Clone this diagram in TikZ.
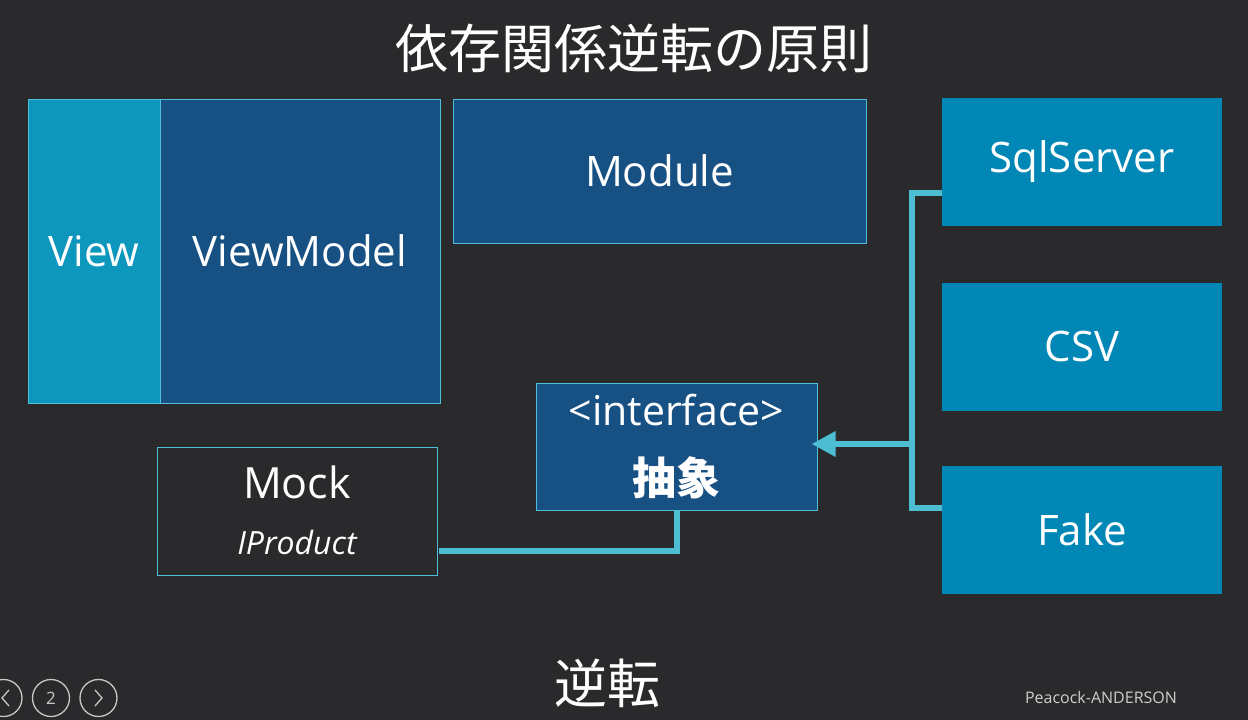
\documentclass[tikz,border=0pt]{standalone}
\usepackage{fontspec}
\setmainfont{Open Sans}
\newfontfamily\jp{Noto Sans CJK JP}
\usetikzlibrary{arrows.meta}
\definecolor{bg}{HTML}{2A2A2C}
\definecolor{lightblue}{HTML}{0E97BC}
\definecolor{darkblue}{HTML}{175184}
\definecolor{midblue}{HTML}{0087B5}
\definecolor{edge}{HTML}{4FC0D8}
\definecolor{wire}{HTML}{4DBDD1}
\definecolor{navgray}{HTML}{C8C8C8}
\begin{document}
\begin{tikzpicture}[x=1pt,y=-1pt,
  box/.style={draw=edge,line width=1pt,inner sep=0pt,text=white,align=center,font=\fontsize{42}{48}\selectfont},
  rbox/.style={fill=midblue,inner sep=0pt,text=white,align=center,minimum width=280pt,minimum height=128pt,font=\fontsize{42}{48}\selectfont},
  conn/.style={draw=wire,line width=6pt},
  navc/.style={draw=navgray,line width=1.3pt,circle,minimum size=37pt,inner sep=0pt,text=navgray,font=\fontsize{17}{17}\selectfont}]
\fill[bg] (0,0) rectangle (1248,720);
\useasboundingbox (0,0) rectangle (1248,720);
% title
\node[text=white,font=\jp\fontsize{53}{56}\selectfont] (title) at (634,48) {依存関係逆転の原則};
% left block
\node[box,fill=lightblue,minimum width=132pt,minimum height=304pt] (view) at (94,251) {View};
\node[box,fill=darkblue,minimum width=280pt,minimum height=304pt] (vm) at (300,251) {ViewModel};
\node[box,fill=darkblue,minimum width=413pt,minimum height=144pt] (module) at (659.5,171) {Module};
% right
\node[rbox] (sql) at (1082,162) {SqlServer};
\node[rbox] (csv) at (1082,346.5) {CSV};
\node[rbox] (fake) at (1082,530) {Fake};
% interface
\node[box,fill=darkblue,minimum width=281pt,minimum height=127pt] (iface) at (676.5,446.5) {};
\node[text=white,font=\fontsize{41}{46}\selectfont] (ifl) at (676.5,410) {<interface>};
\node[text=white,font=\jp\bfseries\fontsize{44}{48}\selectfont] (abs) at (676.5,478) {抽象};
% mock
\node[box,minimum width=280pt,minimum height=128pt] (mock) at (297,511) {};
\node[text=white,font=\fontsize{43}{48}\selectfont] (mockl) at (297,482) {Mock};
\node[text=white,font=\itshape\fontsize{32}{36}\selectfont] (iprod) at (297,542) {IProduct};
% connectors
\draw[conn] ([yshift=-40pt,xshift=1pt]mock.east) -| ([yshift=0.5pt]iface.south);
\coordinate (jn) at (912,444);
\draw[conn] ([yshift=-31pt]sql.west) -- (912,193) |- ([yshift=22pt]fake.west);
\draw[conn,-{Triangle[length=24pt,width=24pt]}] (jn) -- ([xshift=-6pt]iface.east |- jn);
% bottom
\node[text=white,font=\jp\fontsize{53}{56}\selectfont] (inv) at (607,683) {逆転};
\node[text=navgray!90,font=\fontsize{16}{18}\selectfont] (credit) at (1101,697) {Peacock-ANDERSON};
\node[navc] (prev) at (3.5,698) {};
\draw[navgray,line width=1.3pt] (9,690) -- (2,698) -- (9,706);
\node[navc] (page) at (51,698) {2};
\node[navc] (next) at (98.5,698) {};
\draw[navgray,line width=1.3pt] (95,690) -- (102,698) -- (95,706);
\end{tikzpicture}
\end{document}
